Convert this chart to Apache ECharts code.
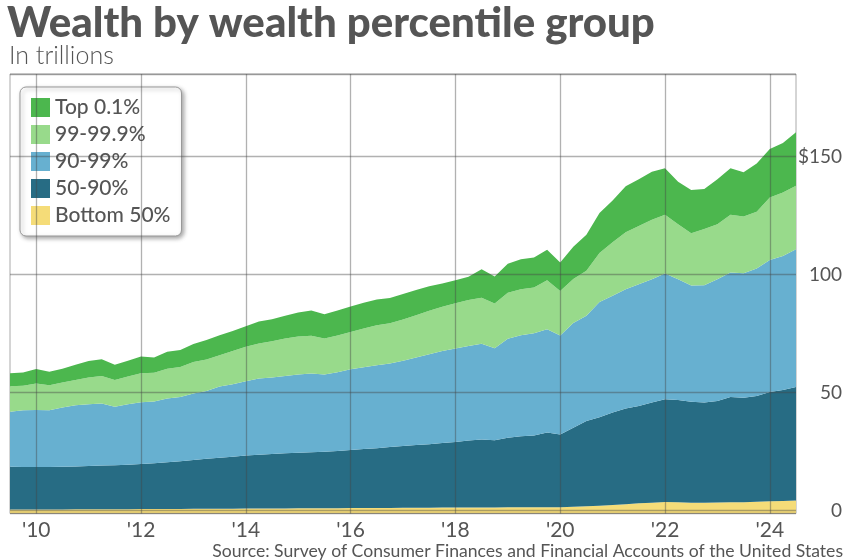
<!DOCTYPE html>
<html>
<head>
<meta charset="utf-8">
<script src="https://cdn.jsdelivr.net/npm/echarts@6/dist/echarts.min.js"></script>
<style>
  html, body { margin: 0; padding: 0; background: #fff; }
  #chart { width: 850px; height: 560px; }
</style>
</head>
<body>
<div id="chart"></div>
<script>
const quarters = [
  "2009Q3","2009Q4",
  "2010Q1","2010Q2","2010Q3","2010Q4",
  "2011Q1","2011Q2","2011Q3","2011Q4",
  "2012Q1","2012Q2","2012Q3","2012Q4",
  "2013Q1","2013Q2","2013Q3","2013Q4",
  "2014Q1","2014Q2","2014Q3","2014Q4",
  "2015Q1","2015Q2","2015Q3","2015Q4",
  "2016Q1","2016Q2","2016Q3","2016Q4",
  "2017Q1","2017Q2","2017Q3","2017Q4",
  "2018Q1","2018Q2","2018Q3","2018Q4",
  "2019Q1","2019Q2","2019Q3","2019Q4",
  "2020Q1","2020Q2","2020Q3","2020Q4",
  "2021Q1","2021Q2","2021Q3","2021Q4",
  "2022Q1","2022Q2","2022Q3","2022Q4",
  "2023Q1","2023Q2","2023Q3","2023Q4",
  "2024Q1","2024Q2","2024Q3"
];

const bottom50 = [0.4,0.4,0.4,0.4,0.4,0.5,0.5,0.5,0.5,0.5,
  0.6,0.6,0.6,0.6,0.7,0.7,0.7,0.7,0.8,0.8,
  0.8,0.8,0.9,0.9,0.9,0.9,1.0,1.0,1.0,1.0,
  1.1,1.1,1.1,1.2,1.2,1.2,1.2,1.2,1.3,1.3,
  1.4,1.4,1.4,1.6,1.8,2.0,2.3,2.6,3.0,3.3,
  3.6,3.5,3.3,3.3,3.4,3.5,3.5,3.7,3.9,4.0,4.2];

const p50to90 = [18.1,18.0,18.0,18.0,18.1,18.1,18.3,18.5,18.6,18.9,
  19.1,19.4,19.8,20.2,20.7,21.2,21.6,22.1,22.5,22.8,
  23.1,23.4,23.6,23.8,24.0,24.3,24.6,25.0,25.4,25.9,
  26.2,26.6,27.0,27.4,27.8,28.4,28.9,28.5,29.5,30.1,
  30.4,31.6,30.8,33.5,36.1,37.5,39.2,40.6,41.3,42.4,
  43.5,43.3,42.8,42.4,43.0,44.6,44.3,44.8,46.3,47.0,48.1];

const p90to99 = [23.3,24.1,24.2,24.1,25.1,26.0,26.2,26.3,24.9,25.6,
  26.2,26.2,27.0,27.3,28.2,28.7,30.2,30.7,31.5,32.3,
  32.4,32.8,33.1,33.3,32.7,33.4,34.2,34.7,35.1,35.4,
  36.1,37.1,38.1,39.0,39.6,40.1,40.6,39.0,42.0,42.9,
  43.3,43.8,42.0,44.3,44.6,48.8,49.5,50.6,51.6,52.3,
  53.3,51.2,49.3,49.8,51.6,52.8,52.7,54.1,56.0,56.9,58.4];

const p99to999 = [10.8,10.3,11.2,10.6,10.6,10.7,11.3,11.7,11.3,11.8,
  12.2,12.2,12.7,12.7,13.3,13.4,13.3,14.1,14.6,14.9,
  15.4,15.9,16.1,16.0,15.3,15.6,15.8,16.4,17.0,17.0,
  17.5,17.9,18.4,18.7,19.2,19.5,19.5,19.0,19.5,19.5,
  19.4,20.8,18.8,18.7,19.1,20.8,22.7,24.1,24.7,25.2,
  24.9,23.3,22.1,23.8,23.3,24.4,24.1,24.0,26.5,26.9,26.9];

const top01 = [5.5,5.7,6.1,5.7,5.9,6.5,7.0,7.1,6.5,6.6,
  7.1,6.4,7.2,7.2,7.6,8.2,8.5,8.5,8.7,9.3,
  9.3,9.6,10.2,10.8,10.3,10.6,10.8,10.9,10.9,10.7,
  10.8,10.7,10.4,9.9,9.8,9.9,12.0,11.5,12.3,12.7,
  12.7,12.9,12.1,13.7,15.3,17.0,17.7,19.5,19.8,20.4,
  19.7,18.0,18.3,17.0,19.1,19.8,18.7,20.5,20.5,20.9,22.7];

const xTickYears = ["2010","2012","2014","2016","2018","2020","2022","2024"];
const yTickValues = [0, 50, 100, 150];

const seriesNames = ["Bottom 50%", "50-90%", "90-99%", "99-99.9%", "Top 0.1%"];
const seriesColors = ["#F5DC78", "#276C84", "#67B0D0", "#98DA8B", "#4CB74E"];
const seriesData = [bottom50, p50to90, p90to99, p99to999, top01];

const FONT = "Lato, 'Noto Sans', sans-serif";
const TEXT = "#555555";
const GRIDLINE = { color: "rgba(70,70,70,0.42)", width: 1.3 };

function isYearTick(index, value) {
  return value.slice(4) === "Q1" && xTickYears.indexOf(value.slice(0, 4)) >= 0;
}

const chart = echarts.init(document.getElementById("chart"), null, { renderer: "canvas" });

chart.setOption({
  animation: false,
  backgroundColor: "#ffffff",
  textStyle: { fontFamily: FONT },
  title: [
    {
      text: "Wealth by wealth percentile group",
      left: 7, top: 2, padding: 0,
      textStyle: { fontFamily: FONT, fontWeight: 900, fontSize: 42, color: TEXT }
    },
    {
      text: "In trillions",
      left: 9, top: 43, padding: 0,
      textStyle: { fontFamily: FONT, fontWeight: 300, fontSize: 25, color: TEXT }
    },
    {
      text: "Source: Survey of Consumer Finances and Financial Accounts of the United States",
      right: 7, bottom: 0, padding: 0,
      textStyle: { fontFamily: FONT, fontWeight: 400, fontSize: 17.6, color: TEXT }
    }
  ],
  legend: {
    orient: "vertical",
    left: 20, top: 87,
    data: ["Top 0.1%", "99-99.9%", "90-99%", "50-90%", "Bottom 50%"],
    icon: "rect",
    itemWidth: 19, itemHeight: 19, itemGap: 6,
    padding: [10, 11, 10, 11],
    backgroundColor: "#ffffff",
    borderColor: "#999999", borderWidth: 1, borderRadius: 6,
    shadowBlur: 4, shadowOffsetX: 2, shadowOffsetY: 2, shadowColor: "rgba(0,0,0,0.35)",
    textStyle: { fontFamily: FONT, fontSize: 21, fontWeight: 500, color: TEXT },
    selectedMode: false
  },
  grid: {
    left: 10, right: 54, top: 74, bottom: 46.5,
    show: true, borderColor: "#aaaaaa", borderWidth: 1, backgroundColor: "transparent"
  },
  xAxis: {
    type: "category",
    data: quarters,
    boundaryGap: false,
    z: 5,
    axisLine: { show: false },
    axisTick: { show: false },
    axisLabel: {
      interval: isYearTick,
      formatter: function (value) { return "'" + value.slice(2, 4); },
      fontFamily: FONT, fontSize: 21, color: TEXT, margin: 6
    },
    splitLine: { show: true, interval: isYearTick, lineStyle: GRIDLINE }
  },
  yAxis: {
    type: "value",
    position: "right",
    min: -1.3, max: 185,
    splitNumber: 4, minInterval: 50, maxInterval: 50,
    z: 5,
    axisLine: { show: false },
    axisTick: { show: false },
    axisLabel: {
      align: "right", margin: 46,
      fontFamily: FONT, fontSize: 19, color: TEXT,
      formatter: function (v) {
        if (yTickValues.indexOf(v) < 0) return "";
        return v === 150 ? "$150" : String(v);
      }
    },
    splitLine: { show: true, lineStyle: GRIDLINE }
  },
  series: seriesNames.map(function (name, i) {
    return {
      name: name,
      type: "line",
      stack: "wealth",
      data: seriesData[i],
      symbol: "none",
      showSymbol: false,
      smooth: false,
      color: seriesColors[i],
      itemStyle: { color: seriesColors[i] },
      lineStyle: { width: 0, color: seriesColors[i] },
      areaStyle: i === 0 ? { color: seriesColors[i], opacity: 1, origin: "start" }
                         : { color: seriesColors[i], opacity: 1 },
      z: 2
    };
  })
});
</script>
</body>
</html>
